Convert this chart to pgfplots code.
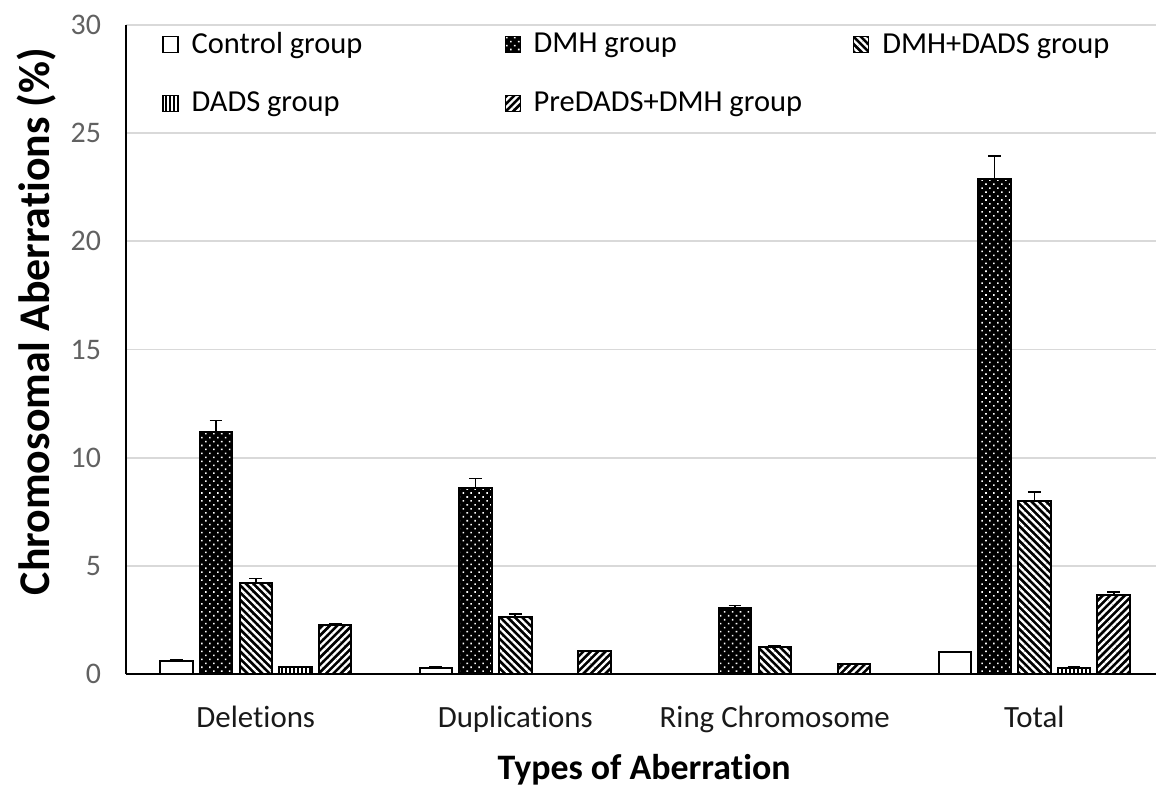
\documentclass[border=0pt]{standalone}
\usepackage{fontspec}
\setmainfont{Carlito}[Ligatures={NoCommon}]
\usepackage{pgfplots}
\pgfplotsset{compat=1.18}
\usetikzlibrary{patterns.meta}

\tikzset{
  pCtrl/.style={fill=white},
  pDMH/.style={fill=black, postaction={pattern={Dots[distance=2.8bp, radius=0.55bp, angle=45]}, pattern color=white}},
  pDD/.style={fill=black, postaction={pattern={Lines[angle=-45, distance=2.6bp, line width=1.15bp]}, pattern color=white}},
  pDADS/.style={fill=black, postaction={pattern={Lines[angle=90, distance=2bp, line width=0.8bp]}, pattern color=white}},
  pPre/.style={fill=black, postaction={pattern={Lines[angle=45, distance=2.6bp, line width=1.15bp]}, pattern color=white}},
}

\begin{document}
\begin{tikzpicture}
\path[use as bounding box] (0,0) rectangle (578bp,395bp);
\begin{axis}[
  at={(63bp,58bp)}, anchor=south west,
  scale only axis, width=515bp, height=324.5bp,
  ybar=3.6bp, bar width=16.25bp,
  xmin=-0.5, xmax=3.469, ymin=0, ymax=30,
  xtick={0,1,2,3},
  xticklabels={Deletions,Duplications,Ring Chromosome,Total},
  ytick={0,5,...,30},
  ymajorgrids, grid style={draw=black!15, line width=0.9bp},
  axis x line*=bottom, axis y line*=left,
  axis line style={black, line width=1bp},
  major tick length=0pt,
  /pgf/number format/assume math mode=true,
  yticklabel style={font=\fontsize{15}{15}\selectfont, text=black!62, xshift=-9bp},
  xticklabel style={font=\fontsize{15.5}{15.5}\selectfont, text=black!90, anchor=base, yshift=-26.5bp},
  xlabel={Types of Aberration},
  ylabel={Chromosomal Aberrations (\%)},
  xlabel style={font=\bfseries\fontsize{18}{18}\selectfont, at={(axis description cs:0.503,-0.1633)}, anchor=base},
  ylabel style={font=\bfseries\fontsize{22}{22}\selectfont, at={(axis description cs:-0.0864,0.543)}, anchor=center},
  every axis plot/.append style={draw=black, line width=1bp},
  error bars/y dir=plus, error bars/y explicit,
  error bars/error bar style={black, line width=0.8bp},
  error bars/error mark options={rotate=90, mark size=3.2bp, black, line width=0.8bp},
  legend columns=3,
  legend cell align=left,
  legend image code/.code={\draw[#1, line width=0.6bp] (0bp,-4bp) rectangle (7.5bp,4bp);},
  legend style={draw=none, fill=none, at={(0.0291,0.995)}, anchor=north west,
    font=\fontsize{15.3}{15.3}\selectfont, row sep=17.5bp,
    nodes={inner sep=0pt},
    /tikz/column 1/.style={column sep=6.5bp},
    /tikz/column 2/.style={column sep=71bp},
    /tikz/column 3/.style={column sep=6.5bp},
    /tikz/column 4/.style={column sep=25.5bp},
    /tikz/column 5/.style={column sep=6.5bp}},
]
\addplot[pCtrl] coordinates {(0,0.6) +- (0,0.05) (1,0.3) +- (0,0.03) (3,1.0) +- (0,0.04)};
\addlegendentry{Control group}
\addplot[pDMH] coordinates {(0,11.2) +- (0,0.52) (1,8.58) +- (0,0.45) (2,3.03) +- (0,0.13) (3,22.86) +- (0,1.08)};
\addlegendentry{DMH group}
\addplot[pDD] coordinates {(0,4.22) +- (0,0.2) (1,2.65) +- (0,0.12) (2,1.23) +- (0,0.06) (3,8.0) +- (0,0.41)};
\addlegendentry{DMH+DADS group}
\addplot[pDADS] coordinates {(0,0.32) +- (0,0.02) (3,0.29) +- (0,0.02)};
\addlegendentry{DADS group}
\addplot[pPre] coordinates {(0,2.25) +- (0,0.06) (1,1.05) +- (0,0.03) (2,0.46) +- (0,0.02) (3,3.65) +- (0,0.13)};
\addlegendentry{PreDADS+DMH group}
\end{axis}
\end{tikzpicture}
\end{document}
